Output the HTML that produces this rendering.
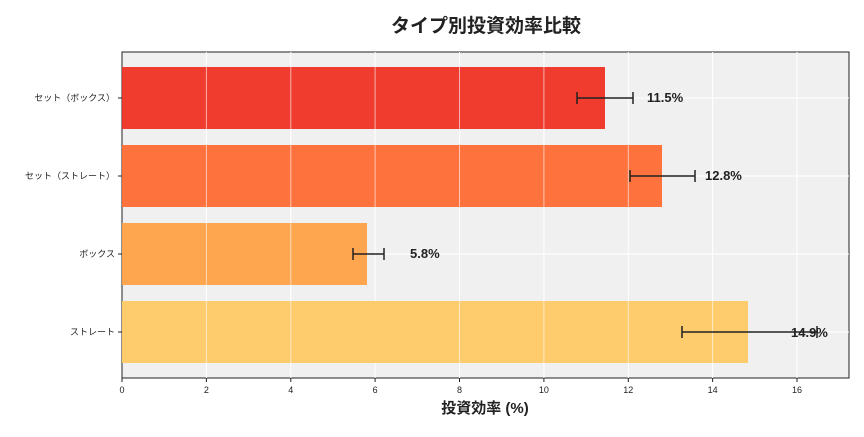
<!DOCTYPE html><html><head><meta charset="utf-8"><style>body{margin:0;background:#fff}text{font-family:"Liberation Sans","Noto Sans CJK JP",sans-serif}</style></head><body>
<svg width="864" height="432" xmlns="http://www.w3.org/2000/svg">
<text x="486" y="32" font-size="19" font-weight="bold" text-anchor="middle" fill="#222">タイプ別投資効率比較</text>
<rect x="122" y="52" width="727" height="326" fill="#f0f0f0" stroke="#222" stroke-width="1"/>
<g stroke="#fff" stroke-width="1">
<line x1="206.4" y1="52" x2="206.4" y2="378"/><line x1="290.8" y1="52" x2="290.8" y2="378"/><line x1="375.1" y1="52" x2="375.1" y2="378"/><line x1="459.5" y1="52" x2="459.5" y2="378"/><line x1="543.9" y1="52" x2="543.9" y2="378"/><line x1="628.3" y1="52" x2="628.3" y2="378"/><line x1="712.6" y1="52" x2="712.6" y2="378"/><line x1="797" y1="52" x2="797" y2="378"/>
<line x1="122" y1="98" x2="849" y2="98"/><line x1="122" y1="176" x2="849" y2="176"/><line x1="122" y1="254" x2="849" y2="254"/><line x1="122" y1="332" x2="849" y2="332"/>
</g>
<rect x="122" y="67" width="483" height="62" fill="#ee3124" opacity="0.95"/>
<rect x="122" y="145" width="540" height="62" fill="#fd6a33" opacity="0.95"/>
<rect x="122" y="223" width="245" height="62" fill="#fea047" opacity="0.95"/>
<rect x="122" y="301" width="626" height="62" fill="#fec965" opacity="0.95"/>
<g stroke="#fff" stroke-width="1" opacity="0.6">
<line x1="206.4" y1="67" x2="206.4" y2="363"/><line x1="290.8" y1="67" x2="290.8" y2="363"/><line x1="375.1" y1="67" x2="375.1" y2="285"/><line x1="459.5" y1="67" x2="459.5" y2="207"/><line x1="459.5" y1="301" x2="459.5" y2="363"/><line x1="543.9" y1="67" x2="543.9" y2="207"/><line x1="543.9" y1="301" x2="543.9" y2="363"/><line x1="628.3" y1="145" x2="628.3" y2="207"/><line x1="628.3" y1="301" x2="628.3" y2="363"/><line x1="712.6" y1="301" x2="712.6" y2="363"/>
</g>
<g stroke="#222" stroke-width="1.5">
<line x1="577" y1="98" x2="633" y2="98"/><line x1="577" y1="92" x2="577" y2="104"/><line x1="633" y1="92" x2="633" y2="104"/>
<line x1="630" y1="176" x2="695" y2="176"/><line x1="630" y1="170" x2="630" y2="182"/><line x1="695" y1="170" x2="695" y2="182"/>
<line x1="353" y1="254" x2="384" y2="254"/><line x1="353" y1="248" x2="353" y2="260"/><line x1="384" y1="248" x2="384" y2="260"/>
<line x1="682" y1="332" x2="817" y2="332"/><line x1="682" y1="326" x2="682" y2="338"/><line x1="817" y1="326" x2="817" y2="338"/>
</g>
<g font-size="13" font-weight="bold" fill="#222">
<text x="647" y="102">11.5%</text><text x="705" y="180">12.8%</text><text x="410" y="258">5.8%</text><text x="791" y="337">14.9%</text>
</g>
<g font-size="9" fill="#222" text-anchor="end">
<text x="115" y="101">セット（ボックス）</text><text x="115" y="179">セット（ストレート）</text><text x="115" y="257">ボックス</text><text x="115" y="335">ストレート</text>
</g>
<g stroke="#222"><line x1="118" y1="98" x2="122" y2="98"/><line x1="118" y1="176" x2="122" y2="176"/><line x1="118" y1="254" x2="122" y2="254"/><line x1="118" y1="332" x2="122" y2="332"/>
<line x1="122" y1="378" x2="122" y2="382"/><line x1="206.4" y1="378" x2="206.4" y2="382"/><line x1="290.8" y1="378" x2="290.8" y2="382"/><line x1="375.1" y1="378" x2="375.1" y2="382"/><line x1="459.5" y1="378" x2="459.5" y2="382"/><line x1="543.9" y1="378" x2="543.9" y2="382"/><line x1="628.3" y1="378" x2="628.3" y2="382"/><line x1="712.6" y1="378" x2="712.6" y2="382"/><line x1="797" y1="378" x2="797" y2="382"/></g>
<g font-size="9" fill="#222" text-anchor="middle">
<text x="122" y="393">0</text><text x="206.4" y="393">2</text><text x="290.8" y="393">4</text><text x="375.1" y="393">6</text><text x="459.5" y="393">8</text><text x="543.9" y="393">10</text><text x="628.3" y="393">12</text><text x="712.6" y="393">14</text><text x="797" y="393">16</text>
</g>
<text x="485" y="413" font-size="15" font-weight="bold" text-anchor="middle" fill="#222">投資効率 (%)</text>
</svg></body></html>
